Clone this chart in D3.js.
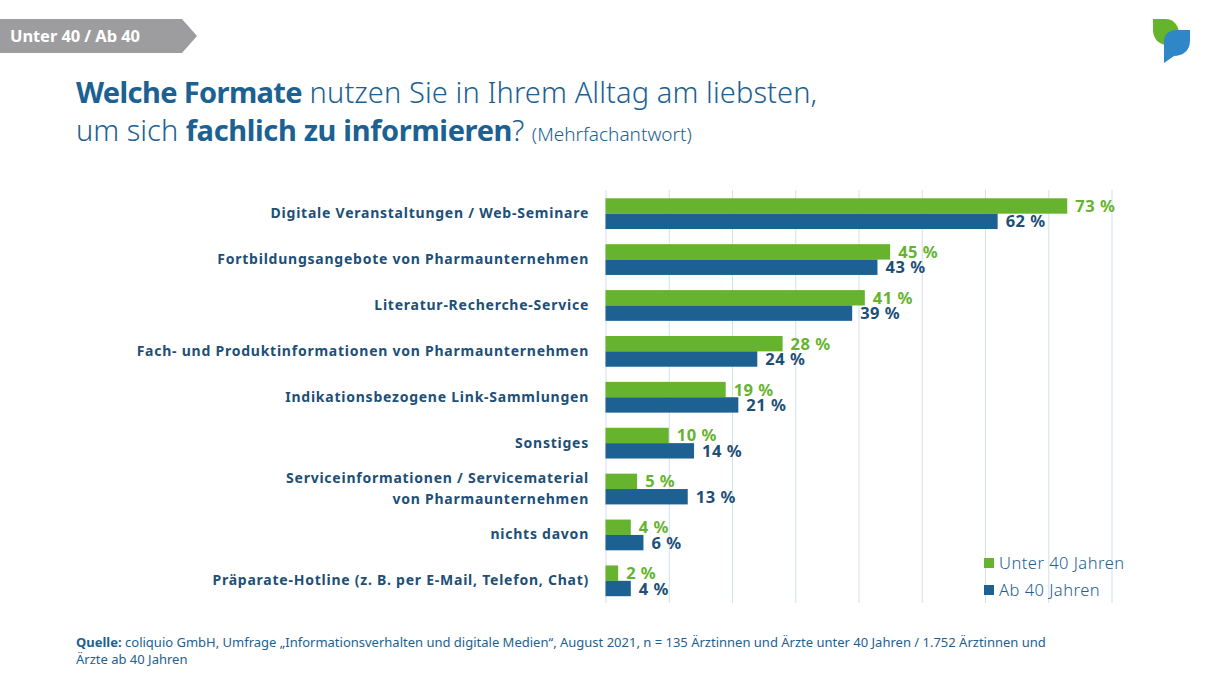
<!DOCTYPE html>
<html>
<head>
<meta charset="utf-8">
<script src="https://cdn.jsdelivr.net/npm/d3@7"></script>
<style>
html, body { margin: 0; padding: 0; background: #fff; }
text { font-family: "Noto Sans", sans-serif; }
</style>
</head>
<body>
<script>
// categories, "|" marks a line break
var categories = [
  "Digitale Veranstaltungen / Web-Seminare",
  "Fortbildungsangebote von Pharmaunternehmen",
  "Literatur-Recherche-Service",
  "Fach- und Produktinformationen von Pharmaunternehmen",
  "Indikationsbezogene Link-Sammlungen",
  "Sonstiges",
  "Serviceinformationen / Servicematerial|von Pharmaunternehmen",
  "nichts davon",
  "Präparate-Hotline (z. B. per E-Mail, Telefon, Chat)"
];
var unter40 = [73, 45, 41, 28, 19, 10, 5, 4, 2];
var ab40 = [62, 43, 39, 24, 21, 14, 13, 6, 4];
var gridTicks = [0, 10, 20, 30, 40, 50, 60, 70, 80];
var seriesNames = ["Unter 40 Jahren", "Ab 40 Jahren"];

var green = "#66b32e";
var blue = "#1c6191";
var darkBlue = "#1d4f77";

var svg = d3.select("body").append("svg")
  .attr("width", 1210).attr("height", 680);

var x = d3.scaleLinear().domain([0, 80]).range([605.5, 1111.5]);
var y = d3.scaleBand().domain(categories).range([190.5, 604]).paddingInner(0.33).paddingOuter(0.17);

// header tag
svg.append("path").attr("d", "M0,19H182L197,36L182,53H0Z").attr("fill", "#9d9d9f");
svg.append("text").attr("x", 10).attr("y", 41.5)
  .attr("font-size", 16.5).attr("font-weight", 700).attr("fill", "#fff")
  .attr("letter-spacing", -0.08)
  .text("Unter 40 / Ab 40");

// logo
svg.append("path").attr("d", "M1153,19H1165C1175,19 1179,27 1179,34L1166,45C1158,44 1153,38 1153,30Z").attr("fill", green);
svg.append("path").attr("d", "M1190,30V41C1190,51 1182,56 1174,56L1164,63V41C1164,35 1169,30 1176,30Z").attr("fill", "#2f87c8");

// title
var title = svg.append("text").attr("fill", blue).attr("font-size", 29);
var line1 = title.append("tspan").attr("x", 76).attr("y", 103);
line1.append("tspan").attr("font-weight", 700).attr("letter-spacing", -0.62).text("Welche Formate");
line1.append("tspan").attr("font-weight", 300).attr("letter-spacing", 0.1).text(" nutzen Sie in Ihrem Alltag am liebsten,");
var line2 = title.append("tspan").attr("x", 76).attr("y", 141);
line2.append("tspan").attr("font-weight", 300).text("um sich ");
line2.append("tspan").attr("font-weight", 700).attr("letter-spacing", -0.35).text("fachlich zu informieren");
line2.append("tspan").attr("font-weight", 300).text("?");
line2.append("tspan").attr("font-weight", 300).attr("font-size", 19).attr("dx", 2.5).text(" (Mehrfachantwort)");

// gridlines
var grid = svg.append("g").attr("transform", "translate(0,190)")
  .call(d3.axisBottom(x).tickValues(gridTicks).tickSize(413).tickFormat(""));
grid.select(".domain").remove();
grid.selectAll("line").attr("stroke", "#d3e0ea").attr("stroke-width", 1);

// category labels
var yAxis = svg.append("g").attr("transform", "translate(589,0)")
  .call(d3.axisLeft(y).tickSize(0).tickPadding(0));
yAxis.select(".domain").remove();
yAxis.selectAll("text")
  .attr("fill", darkBlue).attr("font-size", 14).attr("font-weight", 700)
  .attr("letter-spacing", 0.76).attr("font-family", "Noto Sans")
  .each(function(d) {
    var parts = d.split("|");
    var t = d3.select(this).text(null);
    parts.forEach(function(p, i) {
      t.append("tspan").attr("x", 0)
        .attr("dy", i === 0 ? (parts.length > 1 ? "-0.42em" : "0.32em") : "1.5em")
        .text(p);
    });
  });

// bars and value labels
var barH = y.bandwidth() / 2;
function drawSeries(values, offset, color, labelColor) {
  var g = svg.append("g");
  g.selectAll("rect").data(values).join("rect")
    .attr("x", x(0))
    .attr("y", function(d, i) { return y(categories[i]) + offset; })
    .attr("width", function(d) { return x(d) - x(0); })
    .attr("height", barH)
    .attr("fill", color);
  g.selectAll("text").data(values).join("text")
    .attr("x", function(d) { return x(d) + 8; })
    .attr("y", function(d, i) { return y(categories[i]) + offset + barH / 2 + 6; })
    .attr("font-size", 16.5).attr("font-weight", 700).attr("fill", labelColor)
    .attr("letter-spacing", 0.5)
    .text(function(d) { return d + " %"; });
}
drawSeries(unter40, 0, green, green);
drawSeries(ab40, barH, blue, darkBlue);

// legend
var legendY = [563, 590];
var legendColors = [green, blue];
seriesNames.forEach(function(name, i) {
  svg.append("rect").attr("x", 984).attr("y", legendY[i] - 5).attr("width", 10).attr("height", 10)
    .attr("fill", legendColors[i]);
  svg.append("text").attr("x", 999).attr("y", legendY[i] + 6)
    .attr("font-size", 16.5).attr("font-weight", 300).attr("fill", blue)
    .attr("letter-spacing", 0.48).text(name);
});

// source
var source = svg.append("text").attr("fill", blue).attr("font-size", 13);
var s1 = source.append("tspan").attr("x", 76).attr("y", 647);
s1.append("tspan").attr("font-weight", 700).text("Quelle:");
s1.append("tspan").text(" coliquio GmbH, Umfrage „Informationsverhalten und digitale Medien“, August 2021, n = 135 Ärztinnen und Ärzte unter 40 Jahren / 1.752 Ärztinnen und");
source.append("tspan").attr("x", 76).attr("y", 664).text("Ärzte ab 40 Jahren");
</script>
</body>
</html>
